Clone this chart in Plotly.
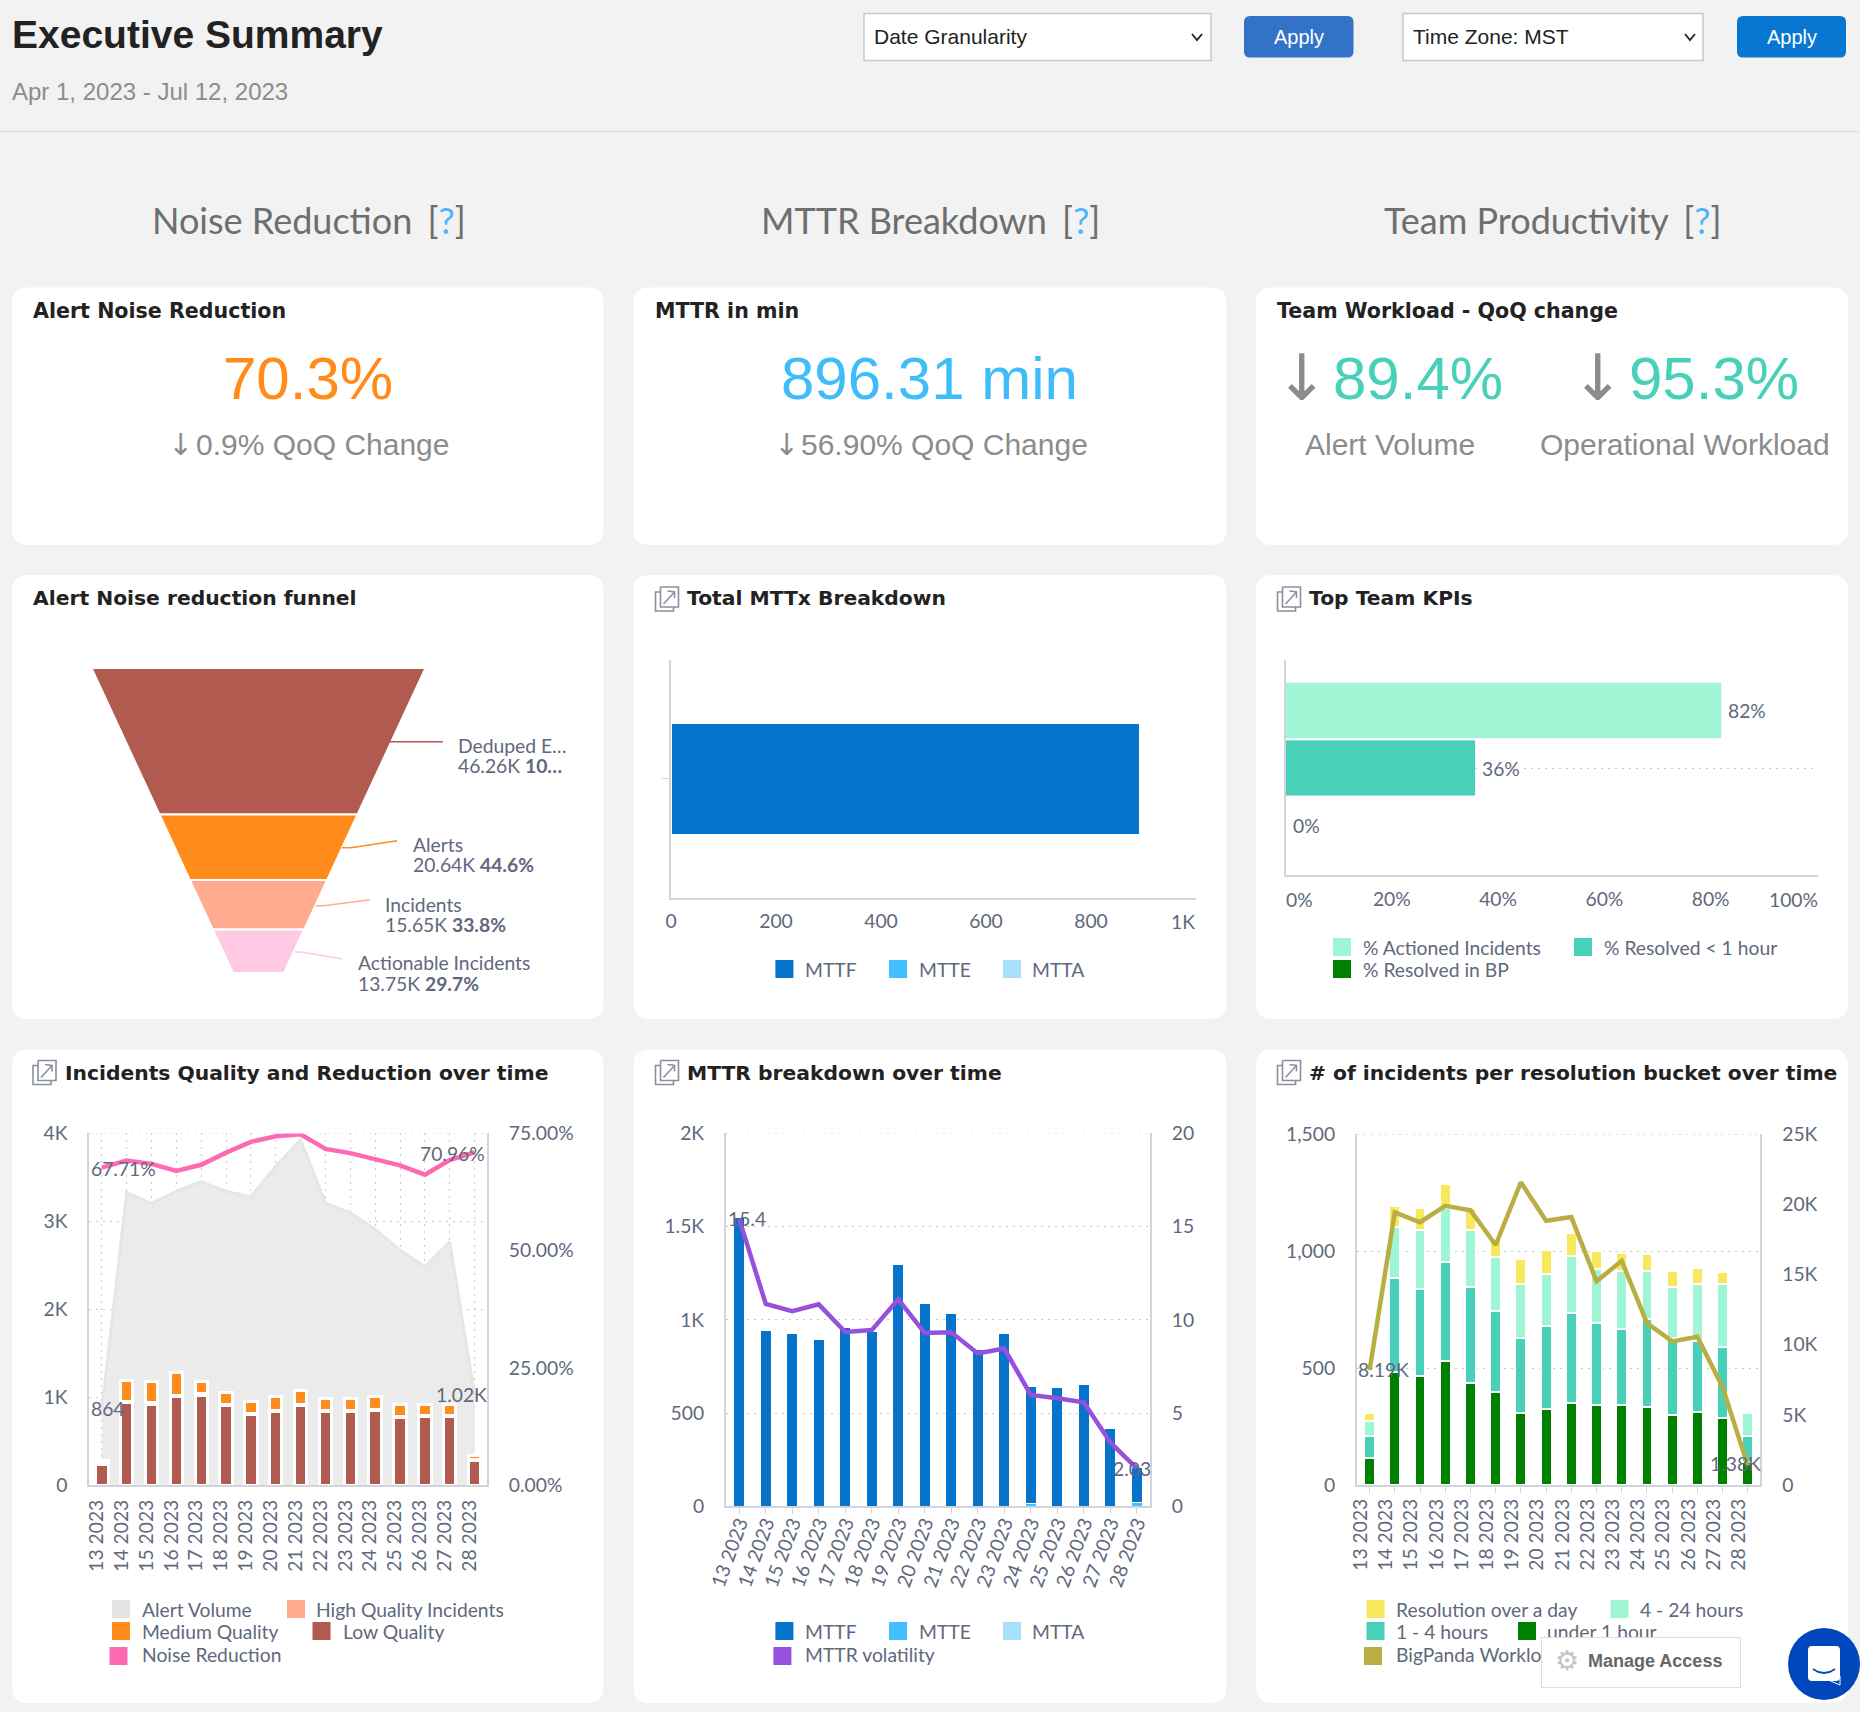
import plotly.graph_objects as go

W, H = 1860, 1712
days = ["13 2023","14 2023","15 2023","16 2023","17 2023","18 2023","19 2023","20 2023",
        "21 2023","22 2023","23 2023","24 2023","25 2023","26 2023","27 2023","28 2023"]

funnel_names = ["Deduped Events", "Alerts", "Incidents", "Actionable Incidents"]
funnel_values = [46.26, 20.64, 15.65, 13.75]
funnel_base_ratio = 0.153

mttx_mttf = [893]
mttx_mtte = [0]
mttx_mtta = [0]

kpi_names = ["% Actioned Incidents", "% Resolved < 1 hour", "% Resolved in BP"]
kpi_values = [82, 35.7, 0]

alert_volume = [864,3325,3203,3340,3452,3340,3281,3623,3927,3208,3095,2910,2670,2484,2768,1020]
low_quality = [235,939,919,1007,1022,905,802,836,905,836,836,851,768,782,782,284]
high_quality = [8,15,14,12,18,10,10,10,10,10,10,12,12,12,12,10]
medium_quality = [36,234,241,257,134,136,137,156,156,137,137,139,134,120,120,43]
noise_reduction = [67.71,69.2,68.5,67.0,68.3,70.9,73.2,74.4,74.8,71.7,70.8,69.6,68.2,66.2,69.3,70.96]

mttf = [1550,940,925,893,957,934,1296,1087,1031,842,925,630,635,651,418,184]
mtte = [1,1,1,1,1,1,1,1,1,1,1,15,1,1,1,23]
mtta = [0,0,0,0,0,0,0,0,0,0,0,0,0,0,0,0]
mttr_volatility = [15.4,10.85,10.46,10.83,9.35,9.45,11.1,9.29,9.33,8.2,8.46,5.97,5.8,5.58,3.43,2.03]

under_1h = [114,482,466,530,435,396,306,325,350,343,343,332,299,312,288,97]
h1_4 = [95,402,372,425,410,347,321,354,387,348,323,378,330,302,301,112]
h4_24 = [64,218,253,228,244,231,233,225,244,231,249,207,216,244,269,97]
over_day = [33,90,94,104,96,77,106,101,95,77,77,70,70,70,52,0]
workload = [8190,19440,18730,19900,19590,17110,21580,18830,19100,14520,15980,11550,10240,10570,6970,1380]

BG = "#f2f2f2"
TXT = "#5f687c"
AXIS = "#d3d3dc"
GRID = "#c8c8c8"
LATO = "Lato"
SANS = "Liberation Sans"
HEAVY = "DejaVu Sans"
BROWN, ORANGE, SALMON, PINK = "#b05a50", "#ff8c1a", "#ffab8f", "#ffc8e3"
BLUE, SKY, PALE = "#0674ca", "#42bfff", "#a8e0fb"
MINT, TEAL, GREEN, YELLOW, OLIVE = "#a0f5d5", "#48d1b8", "#008000", "#f7e85c", "#b9ae42"
HOT, PURPLE = "#ff69b4", "#9650dc"
FS = 19.3
DOTS = "2px,5px"

def X(p): return p / W
def Y(p): return 1 - p / H

shapes, notes = [], []

def rr(x0, y0, x1, y1, r):
    a, b, c, d = X(x0), Y(y0), X(x1), Y(y1)
    ax, ay = r / W, r / H
    return (f"M{a+ax},{b} L{c-ax},{b} Q{c},{b} {c},{b-ay} L{c},{d+ay} Q{c},{d} {c-ax},{d} "
            f"L{a+ax},{d} Q{a},{d} {a},{d+ay} L{a},{b-ay} Q{a},{b} {a+ax},{b} Z")

def box(x0, y0, x1, y1, r=0, fill="white", line=None, layer="below", lw=1):
    shapes.append(dict(type="path", path=rr(x0, y0, x1, y1, r), xref="paper", yref="paper",
                       fillcolor=fill, line=dict(color=line or "rgba(0,0,0,0)", width=lw if line else 0),
                       layer=layer))

def poly(pts, color, lw=1, layer="above", close=False):
    p = "M" + " L".join(f"{X(a)},{Y(b)}" for a, b in pts) + (" Z" if close else "")
    shapes.append(dict(type="path", path=p, xref="paper", yref="paper",
                       line=dict(color=color, width=lw), layer=layer))

def txt(x, y, s, size=FS, color=TXT, fam=LATO, anchor="left", **kw):
    notes.append(dict(x=X(x), y=Y(y), xref="paper", yref="paper", text=s, showarrow=False,
                      xanchor=anchor, yanchor="middle", borderpad=0, borderwidth=0,
                      font=dict(size=size, color=color, family=fam), **kw))

def icon(x, y):
    c = "#8a90a0"
    poly([(x+5, y+5), (x, y+5), (x, y+24), (x+18, y+24), (x+18, y+20)], c, 1.6)
    poly([(x+5, y), (x+23, y), (x+23, y+20), (x+5, y+20), (x+5, y)], c, 1.6)
    poly([(x+8, y+17), (x+19, y+5)], c, 1.6)
    poly([(x+12, y+4), (x+19, y+5), (x+19, y+11)], c, 1.6)

def swatch(x, y, color):
    shapes.append(dict(type="rect", xref="paper", yref="paper", x0=X(x), x1=X(x+18),
                       y0=Y(y), y1=Y(y+18), fillcolor=color, line=dict(width=0), layer="below"))

def leg(sx, sy, color, tx, label, off=9):
    swatch(sx, sy, color)
    txt(tx, sy + off, label)

# ---- page chrome
poly([(0, 131.5), (W, 131.5)], "#e0e0e0", 1.5, "below")
for (x0, x1) in [(12, 603.5), (633.5, 1226.5), (1256, 1848)]:
    box(x0, 287.5, x1, 545, 16)
    box(x0, 575, x1, 1019, 16)
    box(x0, 1049.5, x1, 1703, 16)

txt(12, 34.5, "<b>Executive Summary</b>", 39, "#222222", SANS)
txt(12, 92, "Apr 1, 2023 - Jul 12, 2023", 24, "#8c8c8c", SANS)

box(864, 13.5, 1211, 60.5, 0, "white", "#c8c8c8", lw=1.5)
box(1403, 13.5, 1703, 60.5, 0, "white", "#c8c8c8", lw=1.5)
box(1244, 16, 1353.5, 57.5, 6, "#3273c8")
box(1737, 16, 1846, 57.5, 6, "#0877d1")
txt(874, 36.5, "Date Granularity", 21, "#222222", SANS)
txt(1413, 36.5, "Time Zone: MST", 21, "#222222", SANS)
txt(1298.7, 37, "Apply", 20, "white", SANS, "center")
txt(1791.5, 37, "Apply", 20, "white", SANS, "center")
poly([(1192, 34), (1197, 40), (1202, 34)], "#222222", 1.8)
poly([(1685, 34), (1690, 40), (1695, 34)], "#222222", 1.8)

Q = '<span style="color:#4db5ff">?</span>'
GAP = " \u2006"
txt(308.5, 220, f"Noise Reduction{GAP}[{Q}]", 36, "#6e6e6e", anchor="center")
txt(930.5, 220, f"MTTR Breakdown{GAP}[{Q}]", 36, "#6e6e6e", anchor="center")
txt(1552, 220, f"Team Productivity{GAP}[{Q}]", 36, "#6e6e6e", anchor="center")

T1 = dict(size=20.6, color="#222222", fam=HEAVY)
T = dict(size=20.3, color="#222222", fam=HEAVY)
txt(33, 310.5, "<b>Alert Noise Reduction</b>", **T1)
txt(655, 310.5, "<b>MTTR in min</b>", **T1)
txt(1277, 310.5, "<b>Team Workload - QoQ change</b>", **T1)
txt(33, 598.2, "<b>Alert Noise reduction funnel</b>", **T)
txt(687, 598.2, "<b>Total MTTx Breakdown</b>", **T)
txt(1309, 598.2, "<b>Top Team KPIs</b>", **T)
txt(65, 1072.5, "<b>Incidents Quality and Reduction over time</b>", **T)
txt(687, 1072.5, "<b>MTTR breakdown over time</b>", **T)
txt(1308.5, 1072.5, "<b>&#35; of incidents per resolution bucket over time</b>", **T)
icon(655.5, 587); icon(1277.5, 587)
icon(33, 1060.5); icon(655.5, 1060.5); icon(1277.5, 1060.5)

txt(307.5, 378, "70.3%", 60, ORANGE, SANS, "center")
txt(929, 378, "896.31 min", 60, "#3fbdf9", SANS, "center")
txt(1418, 378, "89.4%", 60, TEAL, SANS, "center")
txt(1714, 378, "95.3%", 60, TEAL, SANS, "center")
txt(1302, 378, "↓", 64, "#8c8c8c", "DejaVu Sans", "center")
txt(1598, 378, "↓", 64, "#8c8c8c", "DejaVu Sans", "center")
txt(180, 444, "↓", 30, "#8c8c8c", "DejaVu Sans", "center")
txt(786, 444, "↓", 30, "#8c8c8c", "DejaVu Sans", "center")
txt(196, 444, "0.9% QoQ Change", 30, "#8c8c8c", SANS)
txt(801, 444, "56.90% QoQ Change", 30, "#8c8c8c", SANS)
txt(1389.5, 445, "Alert Volume", 30, "#8c8c8c", SANS, "center")
txt(1684.5, 445, "Operational Workload", 30, "#8c8c8c", SANS, "center")

# ---- funnel labels and connectors
poly([(389.5, 741.7), (443, 741.7)], BROWN, 1.5)
poly([(342, 847.7), (351, 847.7), (397, 840.7)], ORANGE, 1.5)
poly([(315.5, 905.7), (324, 905.7), (370, 899.7)], SALMON, 1.5)
poly([(294.6, 951.7), (302.5, 952.3), (342.8, 959)], PINK, 1.5)
txt(458, 745, "Deduped E…");  txt(458, 765.5, "46.26K <b>10…</b>")
txt(413, 844, "Alerts");      txt(413, 864.7, "20.64K <b>44.6%</b>")
txt(385, 904.7, "Incidents"); txt(385, 924.7, "15.65K <b>33.8%</b>")
txt(358, 962.5, "Actionable Incidents"); txt(358, 983, "13.75K <b>29.7%</b>")

# ---- legends
leg(775.4, 960, BLUE, 805, "MTTF", 10); leg(889, 960, SKY, 919, "MTTE", 10); leg(1003, 960, PALE, 1032, "MTTA", 10)
leg(1333, 938, MINT, 1362.5, kpi_names[0]); leg(1574, 938, TEAL, 1604, kpi_names[1])
leg(1333, 960, GREEN, 1362.5, kpi_names[2], 10)
leg(112, 1600, "#e4e4e4", 141.5, "Alert Volume"); leg(287, 1600, SALMON, 316, "High Quality Incidents")
leg(112, 1622, ORANGE, 141.5, "Medium Quality"); leg(312.5, 1622, BROWN, 342.5, "Low Quality")
leg(109.5, 1647, HOT, 141.5, "Noise Reduction", 7)
leg(775.4, 1622, BLUE, 805, "MTTF"); leg(889, 1622, SKY, 919, "MTTE"); leg(1003, 1622, PALE, 1032, "MTTA")
leg(773.4, 1647, PURPLE, 805, "MTTR volatility", 7)
leg(1366.5, 1600, YELLOW, 1396, "Resolution over a day"); leg(1610.5, 1600, MINT, 1640, "4 - 24 hours")
leg(1366.5, 1622, TEAL, 1396, "1 - 4 hours"); leg(1518, 1622, GREEN, 1547, "under 1 hour")
leg(1364, 1647, OLIVE, 1396, "BigPanda Workload", 7)

# ---- value labels on the charts
txt(90.5, 1168, "67.71%"); txt(420, 1153, "70.96%")
txt(90.5, 1408, "864"); txt(436, 1394.5, "1.02K")
txt(728, 1218, "15.4"); txt(1113, 1468, "2.03")
txt(1358, 1369, "8.19K"); txt(1709.5, 1463, "1.38K")
txt(1183, 921.7, "1K", anchor="center")
txt(1299, 899.5, "0%", anchor="center")
txt(1793, 899.5, "100%", anchor="center")

# ---- widget overlays (annotations so they sit on the text below)
notes.append(dict(x=X(1541), y=Y(1636.5), xref="paper", yref="paper", xanchor="left", yanchor="top",
                  width=198, height=49, showarrow=False, bgcolor="white", bordercolor="#dddddd",
                  borderwidth=1, borderpad=0, align="left", text=" ",
                  font=dict(size=18, family=SANS)))
txt(1588, 1660.5, "<b>Manage Access</b>", 18, "#666666", SANS)
txt(1566.5, 1660.5, "⚙", 27, "#c4c4c4", "DejaVu Sans", "center")

shapes.append(dict(type="circle", xref="paper", yref="paper", x0=X(1788), x1=X(1860),
                   y0=Y(1628), y1=Y(1700), fillcolor="#0047bb", line=dict(width=0), layer="above"))
box(1808, 1646, 1840, 1681, 4, "white", layer="above")
poly([(1826, 1679), (1840, 1685), (1840, 1676)], "white", 1, close=True)
poly([(1813, 1669), (1818, 1672), (1824, 1673), (1830, 1672), (1835, 1669)], "#0047bb", 1.8)

# ---- top gridline of the three time charts
for xd, yr, v in [("x3 domain", "y3", 4000), ("x4 domain", "y6", 2000), ("x5 domain", "y8", 1500)]:
    shapes.append(dict(type="line", xref=xd, yref=yr, x0=0, x1=1, y0=v, y1=v,
                       line=dict(color=GRID, width=1, dash=DOTS), layer="below"))

# ---- traces
fig = go.Figure()

# funnel from the values: band edges follow the running total
total = sum(funnel_values)
def half(c): return 1 - (1 - funnel_base_ratio) * c / total
cum = 0
for name, val, col in zip(funnel_names, funnel_values, [BROWN, ORANGE, SALMON, PINK]):
    a, b = cum, cum + val
    fig.add_trace(go.Scatter(x=[-half(a), half(a), half(b), -half(b), -half(a)], y=[a, a, b, b, a],
                             mode="lines", fill="toself", fillcolor=col, name=name,
                             line=dict(color="white", width=2), xaxis="x6", yaxis="y10", showlegend=False))
    cum = b

# Total MTTx
for name, vals, col in [("MTTF", mttx_mttf, BLUE), ("MTTE", mttx_mtte, SKY), ("MTTA", mttx_mtta, PALE)]:
    fig.add_trace(go.Bar(x=vals, y=["Total"], orientation="h", name=name, width=0.467,
                         marker=dict(color=col, line=dict(color="white", width=1)),
                         xaxis="x", yaxis="y", showlegend=False))
# KPI
fig.add_trace(go.Bar(x=kpi_values, y=kpi_names, orientation="h", width=0.96,
                     marker=dict(color=[MINT, TEAL, GREEN]), xaxis="x2", yaxis="y2", showlegend=False))
for n, v in zip(kpi_names, kpi_values):
    notes.append(dict(x=v, y=n, xref="x2", yref="y2", text=f"{round(v)}%", showarrow=False, xanchor="left",
                      xshift=5, bgcolor="white", borderpad=1,
                      font=dict(size=FS, color=TXT, family=LATO)))

# Incident quality
fig.add_trace(go.Scatter(x=days, y=alert_volume, name="Alert Volume", mode="lines", fill="tozeroy",
                         fillcolor="#ebebeb", line=dict(color="#e6e6e6", width=3),
                         xaxis="x3", yaxis="y3", showlegend=False))
halo = dict(color="white", width=3)
for name, vals, col in [("Low Quality", low_quality, BROWN), ("High Quality Incidents", high_quality, SALMON),
                        ("Medium Quality", medium_quality, ORANGE)]:
    fig.add_trace(go.Bar(x=days, y=vals, name=name, width=0.5, marker=dict(color=col, line=halo),
                         xaxis="x3", yaxis="y4", showlegend=False))
fig.add_trace(go.Scatter(x=days, y=noise_reduction, name="Noise Reduction", mode="lines",
                         line=dict(color=HOT, width=4.5), xaxis="x3", yaxis="y5", showlegend=False))

# MTTR over time
for name, vals, col in [("MTTE", mtte, SKY), ("MTTF", mttf, BLUE), ("MTTA", mtta, PALE)]:
    fig.add_trace(go.Bar(x=days, y=vals, name=name, width=0.42,
                         marker=dict(color=col, line=dict(color="white", width=1)),
                         xaxis="x4", yaxis="y6", showlegend=False))
fig.add_trace(go.Scatter(x=days, y=mttr_volatility, name="MTTR volatility", mode="lines",
                         line=dict(color=PURPLE, width=4.5), xaxis="x4", yaxis="y7", showlegend=False))

# Resolution buckets
for name, vals, col in [("under 1 hour", under_1h, GREEN), ("1 - 4 hours", h1_4, TEAL),
                        ("4 - 24 hours", h4_24, MINT), ("Resolution over a day", over_day, YELLOW)]:
    fig.add_trace(go.Bar(x=days, y=vals, name=name, width=0.43,
                         marker=dict(color=col, line=dict(color="white", width=2)),
                         xaxis="x5", yaxis="y8", showlegend=False))
fig.add_trace(go.Scatter(x=days, y=workload, name="BigPanda Workload", mode="lines",
                         line=dict(color=OLIVE, width=4.5), xaxis="x5", yaxis="y9", showlegend=False))

# ---- axes
tf = dict(size=FS, color=TXT, family=LATO)
def dx(a, b): return [X(a), X(b)]
def dy(t, b): return [Y(b), Y(t)]
def base(**k):
    d = dict(showgrid=False, zeroline=False, showline=False, tickfont=tf, automargin=False)
    d.update(k)
    return d
dot = dict(showgrid=True, gridcolor=GRID, griddash=DOTS, gridwidth=1)

def day_axis(a, b, anchor, angle, shift, standoff, ticks, grid=False):
    d = base(domain=dx(a, b), anchor=anchor, type="category", range=[-0.5, 15.5],
             showline=True, linecolor=AXIS, linewidth=2, tickangle=angle, ticklabelstandoff=standoff,
             ticklabelshift=shift, tickmode="array", tickvals=days, ticktext=days,
             ticks=ticks, ticklen=6, tickcolor=AXIS)
    if grid: d.update(dot)
    return d

top4, bot4 = 1133.4, 1485
top5, bot5 = 1133.4, 1506.3
top6, bot6 = 1134.3, 1485

left_kw = dict(showline=True, linecolor=AXIS, linewidth=2, side="left")
right_kw = dict(showline=True, linecolor=AXIS, linewidth=2, side="right", showgrid=False)

layout = dict(
    width=W, height=H, autosize=False, margin=dict(l=0, r=0, t=0, b=0, pad=0),
    paper_bgcolor=BG, plot_bgcolor="rgba(0,0,0,0)", barmode="stack", showlegend=False,
    shapes=shapes, annotations=notes, font=dict(family=LATO, color=TXT),
    xaxis=base(domain=dx(671, 1196), anchor="y", range=[0, 1000], showline=True, linecolor=AXIS, linewidth=2,
               tickmode="array", tickvals=[0, 200, 400, 600, 800], ticktext=["0", "200", "400", "600", "800"],
               ticklabelstandoff=5),
    yaxis=base(domain=dy(660, 897.7), anchor="x", type="category", range=[-0.5, 0.5], showline=True,
               linecolor=AXIS, linewidth=2, tickmode="array", tickvals=["Total"], ticktext=[" "],
               ticks="outside", ticklen=7, tickcolor=AXIS),
    xaxis2=base(domain=dx(1285.5, 1818), anchor="y2", range=[0, 100.2], showline=True, linecolor=AXIS, linewidth=2,
                tickmode="array", tickvals=[20, 40, 60, 80], ticktext=["20%", "40%", "60%", "80%"],
                ticklabelstandoff=6),
    yaxis2=base(domain=dy(660, 875), anchor="x2", type="category", range=[2.86, -0.88], showline=True,
                linecolor=AXIS, linewidth=2, tickmode="array", tickvals=[kpi_names[1]], ticktext=[" "], **dot),
    xaxis3=day_axis(89.4, 487, "y3", -90, -5, 5, "", True),
    yaxis3=base(domain=dy(top4, bot4), anchor="x3", range=[0, 4000], tickmode="array",
                tickvals=[0, 1000, 2000, 3000, 4000], ticktext=["0", "1K", "2K", "3K", "4K"],
                ticklabelstandoff=16, **left_kw, **dot),
    yaxis4=base(domain=dy(top4, bot4), anchor="x3", overlaying="y3", range=[0, 4000], showticklabels=False),
    yaxis5=base(domain=dy(top4, bot4), anchor="x3", overlaying="y3", range=[0, 75], tickmode="array",
                tickvals=[0, 25, 50, 75], ticktext=["0.00%", "25.00%", "50.00%", "75.00%"],
                ticklabelstandoff=16, **right_kw),
    xaxis4=day_axis(726, 1150, "y6", -70, 0, -10, "outside"),
    yaxis6=base(domain=dy(top5, bot5), anchor="x4", range=[0, 2000], tickmode="array",
                tickvals=[0, 500, 1000, 1500, 2000], ticktext=["0", "500", "1K", "1.5K", "2K"],
                ticklabelstandoff=16, **left_kw, **dot),
    yaxis7=base(domain=dy(top5, bot5), anchor="x4", overlaying="y6", range=[0, 20], tickmode="array",
                tickvals=[0, 5, 10, 15, 20], ticktext=["0", "5", "10", "15", "20"],
                ticklabelstandoff=16, **right_kw),
    xaxis5=day_axis(1357, 1760.4, "y8", -90, -9, -2, "outside"),
    yaxis8=base(domain=dy(top6, bot6), anchor="x5", range=[0, 1500], tickmode="array",
                tickvals=[0, 500, 1000, 1500], ticktext=["0", "500", "1,000", "1,500"],
                ticklabelstandoff=16, **left_kw, **dot),
    yaxis9=base(domain=dy(top6, bot6), anchor="x5", overlaying="y8", range=[0, 25000], tickmode="array",
                tickvals=[0, 5000, 10000, 15000, 20000, 25000], ticktext=["0", "5K", "10K", "15K", "20K", "25K"],
                ticklabelstandoff=16, **right_kw),
    xaxis6=dict(domain=dx(91.5, 425.5), anchor="y10", range=[-1, 1], visible=False),
    yaxis10=dict(domain=dy(668, 973), anchor="x6", range=[total, 0], visible=False),
)
fig.update_layout(**layout)

fig.write_html("out.html", config={"displayModeBar": False},
               post_script="document.body.style.margin='0';document.body.style.overflow='hidden';")
